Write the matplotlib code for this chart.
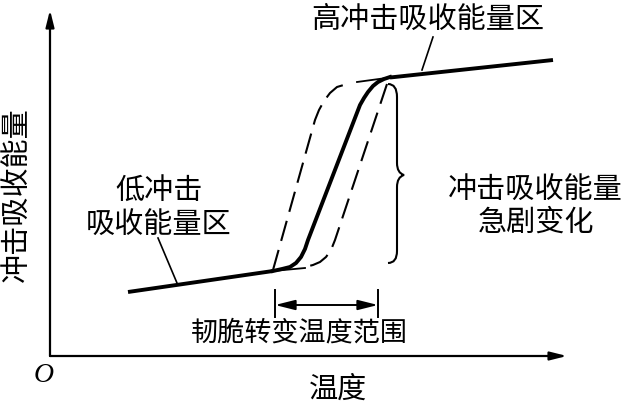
import numpy as np
import matplotlib
matplotlib.use("Agg")
import matplotlib.pyplot as plt
from matplotlib.path import Path
from matplotlib.patches import PathPatch

plt.rcParams['font.family'] = ['Noto Sans CJK SC', 'DejaVu Sans']

# --- schematic data (temperature T, absorbed energy E) ---
low_T = [78, 223]
low_E = [64, 85]
low_thin_T = [223, 255]
low_thin_E = [85, 88]

trans_T = [223, 232, 240, 246, 251, 255, 258, 310, 314, 318, 323, 328, 334, 340]
trans_E = [85, 87, 89, 93, 99, 107, 116, 251, 258, 264, 270, 274, 277, 279]

up_thin_T = [307, 340]
up_thin_E = [274, 278.5]
up_T = [340, 503]
up_E = [278.5, 296]

dashL_T = [223, 265, 269, 274, 280, 287, 297]
dashL_E = [86, 236, 246, 255, 263, 269, 272]
dashR_T = [337, 285, 281, 276, 270, 263, 255]
dashR_E = [272, 116, 106, 99, 94, 91, 89]

brace_T = 347
brace_E_top, brace_E_mid, brace_E_bot = 271, 181, 93

range_T = [225, 328]
range_E_arrow = 51
range_E_tick = [39, 66]

fig = plt.figure(figsize=(6.28, 4.07), dpi=100)
ax = fig.add_axes([0, 0, 1, 1])
ax.set_xlim(-50, 578)
ax.set_ylim(-51, 356)
ax.axis('off')

# axes with arrows
ax.annotate('', xy=(0, 346), xytext=(0, 0),
            arrowprops=dict(arrowstyle='-|>,head_length=1.0,head_width=0.25',
                            lw=1.6, color='black', shrinkA=0, shrinkB=0))
ax.annotate('', xy=(517, 0), xytext=(0, 0),
            arrowprops=dict(arrowstyle='-|>,head_length=1.0,head_width=0.25',
                            lw=1.6, color='black', shrinkA=0, shrinkB=0))

# curves
ax.plot(low_T, low_E, color='black', lw=2.8, solid_capstyle='butt')
ax.plot(low_thin_T, low_thin_E, color='black', lw=1.3)
ax.plot(trans_T, trans_E, color='black', lw=2.8, solid_joinstyle='round')
ax.plot(up_thin_T, up_thin_E, color='black', lw=1.3)
ax.plot(up_T, up_E, color='black', lw=2.8, solid_capstyle='butt')
ax.plot(dashL_T, dashL_E, color='black', lw=1.5, dashes=(10, 4.5))
ax.plot(dashR_T, dashR_E, color='black', lw=1.5, dashes=(10, 4.5))

# brace
bx = brace_T
verts = [(bx - 9, brace_E_top + 1), (bx, brace_E_top + 1), (bx, brace_E_top - 12),
         (bx, brace_E_mid + 12),
         (bx, brace_E_mid + 2), (bx + 7, brace_E_mid),
         (bx, brace_E_mid - 2), (bx, brace_E_mid - 12),
         (bx, brace_E_bot + 12),
         (bx, brace_E_bot), (bx - 9, brace_E_bot)]
codes = [Path.MOVETO, Path.CURVE3, Path.CURVE3, Path.LINETO,
         Path.CURVE3, Path.CURVE3, Path.CURVE3, Path.CURVE3,
         Path.LINETO, Path.CURVE3, Path.CURVE3]
ax.add_patch(PathPatch(Path(verts, codes), fill=False, lw=1.5, color='black'))

# transition range bracket
for t in range_T:
    ax.plot([t, t], range_E_tick, color='black', lw=1.4)
ax.annotate('', xy=(range_T[1], range_E_arrow), xytext=(range_T[0], range_E_arrow),
            arrowprops=dict(arrowstyle='<|-|>,head_length=1.2,head_width=0.3',
                            lw=1.4, color='black', shrinkA=0, shrinkB=0))

# leader lines
ax.plot([383, 372], [319, 286], color='black', lw=1.2)
ax.plot([108, 127], [118, 73], color='black', lw=1.2)

fs = 21
ax.text(378, 336, '高冲击吸收能量区', fontsize=fs, ha='center', va='center')
ax.text(109, 165, '低冲击', fontsize=fs, ha='center', va='center')
ax.text(109, 131, '吸收能量区', fontsize=fs, ha='center', va='center')
ax.text(485, 166, '冲击吸收能量', fontsize=fs, ha='center', va='center')
ax.text(486, 133, '急剧变化', fontsize=fs, ha='center', va='center')
ax.text(249, 23, '韧脆转变温度范围', fontsize=19.5, ha='center', va='center')
ax.text(288, -34, '温度', fontsize=fs, ha='center', va='center')
ax.text(-33, 161, '冲击吸收能量', fontsize=fs, ha='center', va='center', rotation=90)
ax.text(-6, -19, 'O', fontsize=20, ha='center', va='center', style='italic',
        family=['Liberation Serif', 'DejaVu Serif'])

fig.savefig('out.png', dpi=100)
